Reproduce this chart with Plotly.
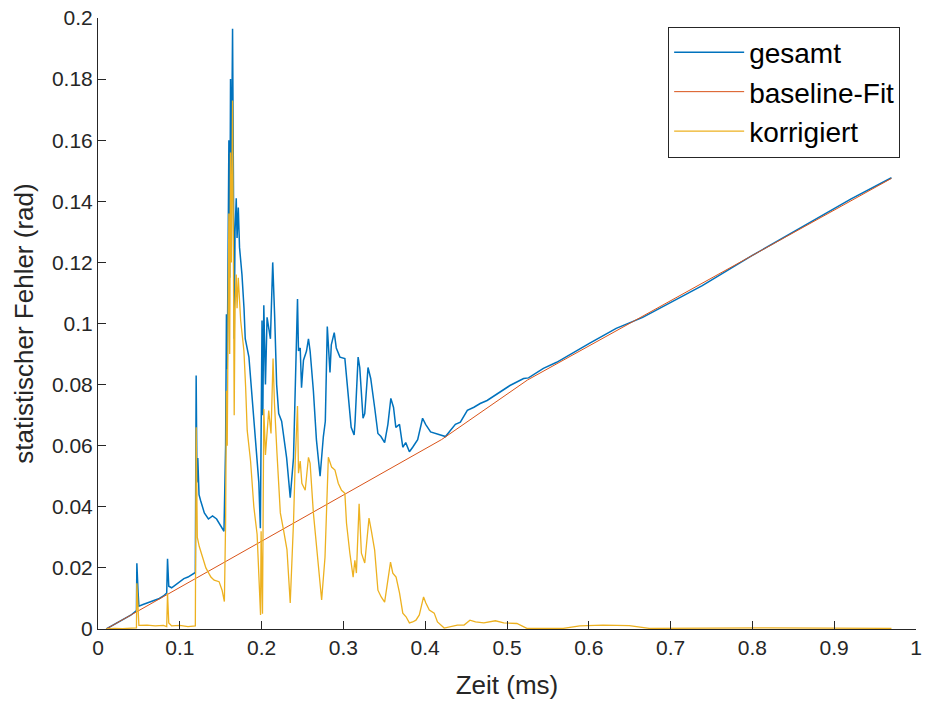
import plotly.graph_objects as go

# ---- data ----
gesamt_x = [0.010, 0.020, 0.030, 0.040, 0.047, 0.0475, 0.049, 0.050, 0.055, 0.060, 0.065, 0.070, 0.075, 0.080, 0.084,
            0.085, 0.0865, 0.090, 0.095, 0.100, 0.105, 0.110, 0.115, 0.119, 0.1200, 0.1210, 0.1220, 0.1235, 0.1255,
            0.1300, 0.1350, 0.1400, 0.1450, 0.1500, 0.1540, 0.1560, 0.1570, 0.1580, 0.1590, 0.1600, 0.1610, 0.1620,
            0.1630, 0.1645, 0.1655, 0.1665, 0.1675, 0.1690, 0.1700, 0.1715, 0.1730, 0.1760, 0.1785, 0.1800, 0.1845,
            0.1900, 0.1966, 0.1985, 0.1995, 0.2005, 0.2015, 0.2027, 0.2047, 0.2067, 0.2108, 0.2136, 0.2160, 0.2184,
            0.2209, 0.2245, 0.2306, 0.2350, 0.2390, 0.2411, 0.2439, 0.2451, 0.2472, 0.2488, 0.2512, 0.2549, 0.2573,
            0.2593, 0.2633, 0.2670, 0.2715, 0.2755, 0.2779, 0.2803, 0.2836, 0.2852, 0.2888, 0.2913, 0.2958, 0.3018,
            0.3058, 0.3095, 0.3131, 0.3143, 0.3180, 0.3200, 0.3240, 0.3261, 0.3301, 0.3334, 0.3382, 0.3422, 0.3459,
            0.3504, 0.3544, 0.3580, 0.3613, 0.3641, 0.3686, 0.3726, 0.3762, 0.3807, 0.3847, 0.3908, 0.3968, 0.4005,
            0.4066, 0.4126, 0.4187, 0.4248, 0.4293, 0.4369, 0.4430, 0.4515, 0.4596, 0.4672, 0.4757, 0.4879, 0.5036,
            0.5203, 0.5263, 0.5445, 0.5607, 0.6007, 0.6335, 0.6659, 0.6857, 0.7387, 0.7994, 0.8600, 0.9207, 0.9700]
gesamt_y = [0.0000, 0.0015, 0.0030, 0.0045, 0.0060, 0.0215, 0.0120, 0.0075, 0.0080, 0.0085, 0.0088, 0.0093, 0.0100, 0.0108, 0.0118,
            0.0230, 0.0140, 0.0135, 0.0145, 0.0155, 0.0165, 0.0170, 0.0178, 0.0185, 0.0830, 0.0480, 0.0560, 0.0440, 0.0420,
            0.0380, 0.0360, 0.0370, 0.0360, 0.0340, 0.0320, 0.0600, 0.1030, 0.0850, 0.1250, 0.1600, 0.1150, 0.1800,
            0.1450, 0.1965, 0.1500, 0.0950, 0.1300, 0.1410, 0.1280, 0.1380, 0.1250, 0.1160, 0.1050, 0.0950, 0.0890,
            0.0700, 0.0480, 0.0330, 0.0600, 0.1010, 0.0700, 0.1060, 0.0800, 0.1020, 0.0950, 0.1200, 0.1020, 0.0800,
            0.0705, 0.0680, 0.0560, 0.0430, 0.0560, 0.0760, 0.1080, 0.0910, 0.0920, 0.0790, 0.0880, 0.0910, 0.0950,
            0.0910, 0.0780, 0.0620, 0.0500, 0.0630, 0.0680, 0.0990, 0.0840, 0.0930, 0.0970, 0.0920, 0.0890, 0.0885,
            0.0780, 0.0660, 0.0635, 0.0680, 0.0890, 0.0856, 0.0690, 0.0705, 0.0856, 0.0820, 0.0725, 0.0640, 0.0630,
            0.0610, 0.0670, 0.0755, 0.0725, 0.0660, 0.0670, 0.0595, 0.0610, 0.0580, 0.0595, 0.0620, 0.0690, 0.0670,
            0.0645, 0.0640, 0.0634, 0.0630, 0.0645, 0.0670, 0.0677, 0.0716, 0.0726, 0.0738, 0.0748, 0.0770, 0.0797,
            0.0820, 0.0822, 0.0853, 0.0873, 0.0935, 0.0984, 0.1020, 0.1049, 0.1124, 0.1222, 0.1314, 0.1408, 0.1477]

baseline_x = [0.010, 0.420, 0.525, 0.700, 0.970]
baseline_y = [0.0000, 0.0620, 0.0815, 0.1075, 0.1475]

korr_x = [0.010, 0.020, 0.030, 0.040, 0.047, 0.0475, 0.049, 0.050, 0.060, 0.070, 0.080, 0.084, 0.085, 0.0865, 0.090,
          0.100, 0.110, 0.119, 0.1200, 0.1214, 0.1238, 0.1274, 0.1319, 0.1380, 0.1420, 0.1480, 0.1517, 0.1545, 0.1560,
          0.1570, 0.1580, 0.1590, 0.1600, 0.1610, 0.1620, 0.1630, 0.1645, 0.1655, 0.1665, 0.1675, 0.1690, 0.1700,
          0.1715, 0.1744, 0.1784, 0.1805, 0.1824, 0.1865, 0.1905, 0.1945, 0.1966, 0.1987, 0.1994, 0.2011, 0.2027,
          0.2047, 0.2087, 0.2115, 0.2140, 0.2157, 0.2188, 0.2229, 0.2269, 0.2310, 0.2350, 0.2370, 0.2391, 0.2411,
          0.2439, 0.2451, 0.2472, 0.2492, 0.2533, 0.2573, 0.2593, 0.2633, 0.2674, 0.2715, 0.2734, 0.2775, 0.2795,
          0.2816, 0.2856, 0.2897, 0.2937, 0.2977, 0.3018, 0.3038, 0.3079, 0.3119, 0.3140, 0.3159, 0.3192, 0.3220,
          0.3261, 0.3313, 0.3341, 0.3382, 0.3422, 0.3462, 0.3504, 0.3544, 0.3576, 0.3604, 0.3644, 0.3686, 0.3726,
          0.3766, 0.3807, 0.3847, 0.3887, 0.3928, 0.3980, 0.4008, 0.4050, 0.4110, 0.4150, 0.4232, 0.4312, 0.4393,
          0.4475, 0.4547, 0.4615, 0.4717, 0.4858, 0.4960, 0.5121, 0.5243, 0.5688, 0.5890, 0.6174, 0.6496, 0.6739,
          0.7994, 0.8200, 0.9700]
korr_y = [0.0000, 0.0002, 0.0001, 0.0003, 0.0004, 0.0150, 0.0050, 0.0012, 0.0013, 0.0010, 0.0012, 0.0008, 0.0117, 0.0020, 0.0010,
          0.0012, 0.0008, 0.0010, 0.0660, 0.0300, 0.0270, 0.0236, 0.0200, 0.0170, 0.0160, 0.0155, 0.0127, 0.0090, 0.0350,
          0.0780, 0.0600, 0.1000, 0.1360, 0.0900, 0.1560, 0.1200, 0.1730, 0.1250, 0.0700, 0.1050, 0.1160, 0.1050,
          0.1150, 0.1010, 0.0910, 0.0790, 0.0650, 0.0550, 0.0400, 0.0310, 0.0160, 0.0046, 0.0320, 0.0050, 0.0720,
          0.0570, 0.0715, 0.0640, 0.0885, 0.0740, 0.0575, 0.0380, 0.0323, 0.0260, 0.0085, 0.0203, 0.0356, 0.0550,
          0.0730, 0.0510, 0.0550, 0.0477, 0.0454, 0.0562, 0.0542, 0.0380, 0.0258, 0.0137, 0.0095, 0.0235, 0.0420,
          0.0562, 0.0530, 0.0520, 0.0477, 0.0454, 0.0444, 0.0346, 0.0248, 0.0170, 0.0225, 0.0183, 0.0410, 0.0248,
          0.0216, 0.0363, 0.0323, 0.0258, 0.0127, 0.0105, 0.0088, 0.0170, 0.0219, 0.0183, 0.0170, 0.0118, 0.0052,
          0.0040, 0.0020, 0.0023, 0.0029, 0.0046, 0.0105, 0.0085, 0.0062, 0.0052, 0.0023, 0.0003, 0.0007, 0.0013,
          0.0013, 0.0029, 0.0023, 0.0020, 0.0027, 0.0020, 0.0018, 0.0002, 0.0002, 0.0010, 0.0013, 0.0011, 0.0002,
          0.0004, 0.0004, 0.0002]

x_ticks = [0, 0.1, 0.2, 0.3, 0.4, 0.5, 0.6, 0.7, 0.8, 0.9, 1]
x_tick_labels = ["0", "0.1", "0.2", "0.3", "0.4", "0.5", "0.6", "0.7", "0.8", "0.9", "1"]
y_ticks = [0, 0.02, 0.04, 0.06, 0.08, 0.1, 0.12, 0.14, 0.16, 0.18, 0.2]
y_tick_labels = ["0", "0.02", "0.04", "0.06", "0.08", "0.1", "0.12", "0.14", "0.16", "0.18", "0.2"]

series_names = ["gesamt", "baseline-Fit", "korrigiert"]
colors = ["#0072BD", "#D95319", "#EDB120"]

FONT = "Liberation Sans, Arial, Helvetica, sans-serif"
AX = "#262626"

fig = go.Figure()
fig.add_trace(go.Scatter(x=gesamt_x, y=gesamt_y, mode="lines", name=series_names[0],
                         line=dict(color=colors[0], width=1.5)))
fig.add_trace(go.Scatter(x=baseline_x, y=baseline_y, mode="lines", name=series_names[1],
                         line=dict(color=colors[1], width=1)))
fig.add_trace(go.Scatter(x=korr_x, y=korr_y, mode="lines", name=series_names[2],
                         line=dict(color=colors[2], width=1.3)))

axis_common = dict(showgrid=False, zeroline=False, showline=True, linecolor=AX, linewidth=1,
                   ticks="inside", ticklen=8, tickcolor=AX, tickwidth=1,
                   tickfont=dict(family=FONT, size=21, color=AX), mirror=False)

fig.update_layout(
    width=928, height=702,
    margin=dict(l=98, r=6, t=17, b=73),
    paper_bgcolor="white", plot_bgcolor="white",
    font=dict(family=FONT, color=AX),
    xaxis=dict(range=[0, 1], tickvals=x_ticks, ticktext=x_tick_labels,
               title=dict(text="Zeit (ms)", font=dict(family=FONT, size=26, color=AX), standoff=17),
               **axis_common),
    yaxis=dict(range=[0, 0.2], tickvals=y_ticks, ticktext=y_tick_labels,
               title=dict(text="statistischer Fehler (rad)", font=dict(family=FONT, size=26, color=AX), standoff=10),
               **axis_common),
    legend=dict(x=0.697, y=0.986, xanchor="left", yanchor="top",
                bgcolor="white", bordercolor=AX, borderwidth=1,
                font=dict(family=FONT, size=28, color="black"),
                itemwidth=70, tracegroupgap=0),
    showlegend=True,
)

fig.write_html("out.html")
